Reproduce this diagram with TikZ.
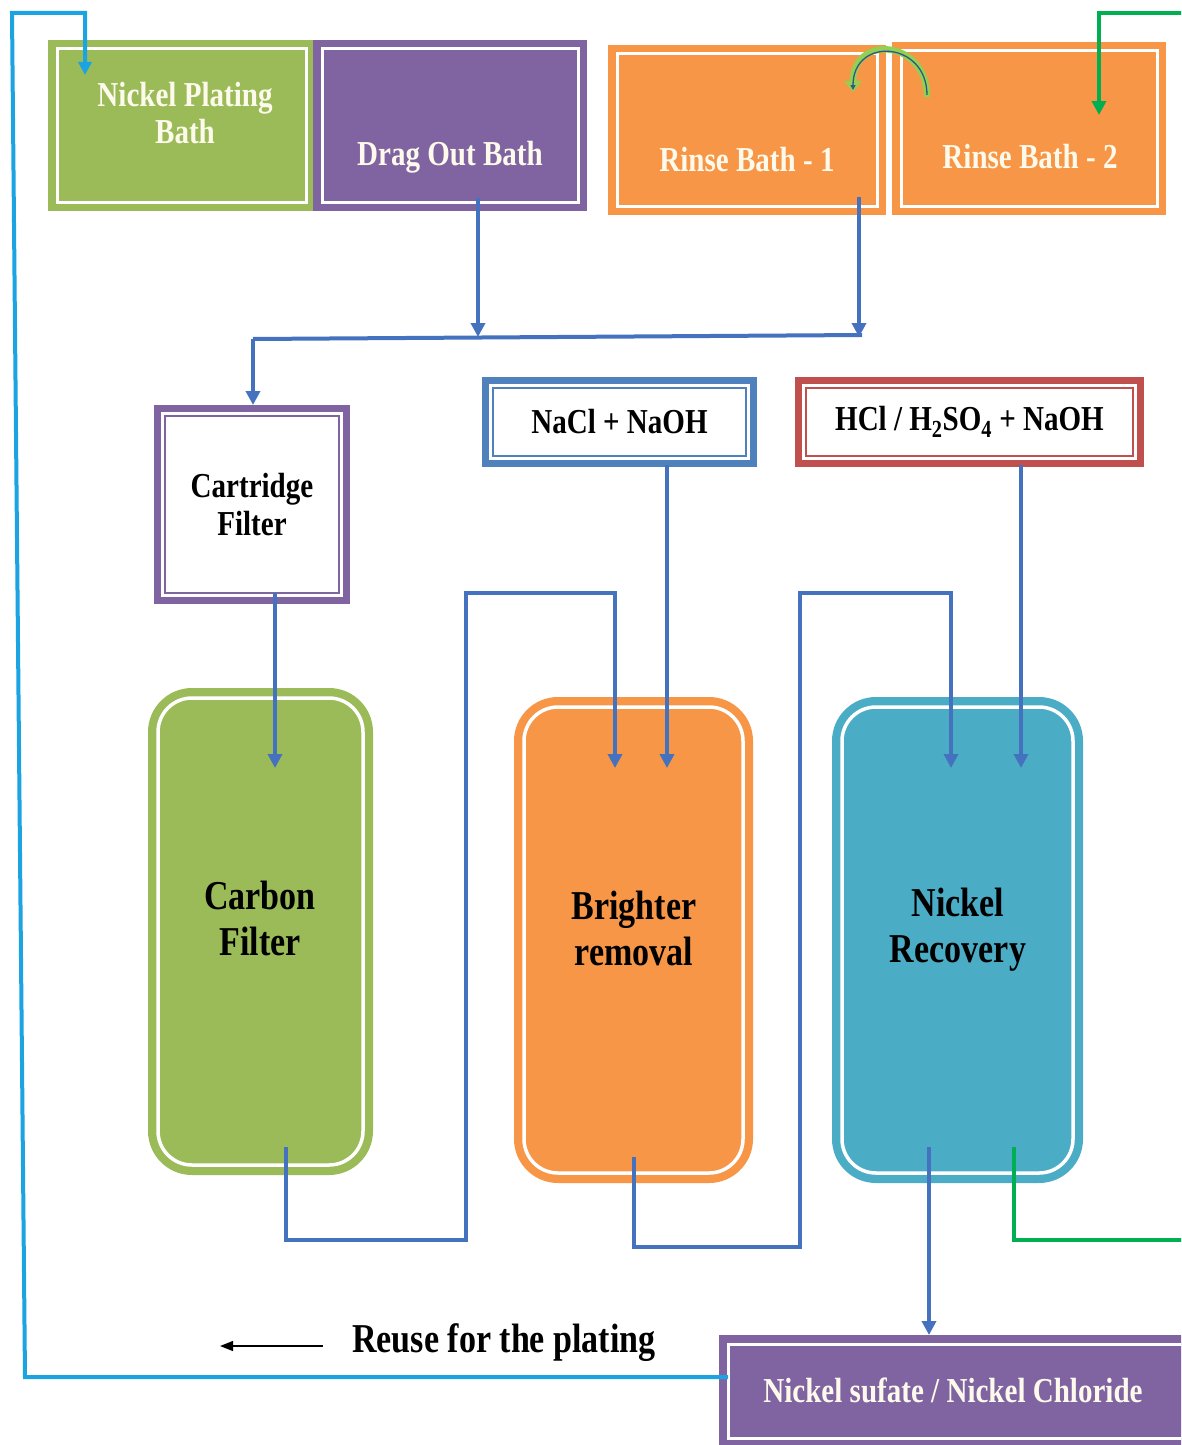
\documentclass[tikz,border=0pt]{standalone}
\usepackage{fontspec}
\setmainfont{Liberation Serif}[FakeStretch=0.83]
\usetikzlibrary{arrows.meta,calc}
\definecolor{cgreen}{RGB}{155,187,89}
\definecolor{cpurple}{RGB}{128,100,162}
\definecolor{corange}{RGB}{247,150,70}
\definecolor{cteal}{RGB}{75,172,198}
\definecolor{cblueb}{RGB}{79,129,189}
\definecolor{cred}{RGB}{192,80,77}
\definecolor{cflow}{RGB}{68,114,190}
\definecolor{ccyan}{RGB}{27,163,226}
\definecolor{cgline}{RGB}{0,176,80}
\definecolor{clight}{RGB}{146,208,80}
\definecolor{ccream}{RGB}{253,250,236}
\tikzset{
  box/.style={rectangle, inner sep=0pt, outer sep=0pt},
  cbox/.style={box, fill=#1, path picture={\draw[white,line width=3pt]
      ([shift={(9pt,-9pt)}]path picture bounding box.north west) rectangle
      ([shift={(-9pt,9pt)}]path picture bounding box.south east);}},
  wbox/.style={box, fill=#1, path picture={\fill[white]
      ([shift={(7pt,-7pt)}]path picture bounding box.north west) rectangle
      ([shift={(-7pt,7pt)}]path picture bounding box.south east);
      \draw[#1,line width=2.5pt]
      ([shift={(11pt,-11pt)}]path picture bounding box.north west) rectangle
      ([shift={(-11pt,11pt)}]path picture bounding box.south east);}},
  rbox/.style={box, rounded corners=44pt, fill=#1, path picture={\draw[white,line width=3.5pt,rounded corners=34pt]
      ([shift={(10pt,-10pt)}]path picture bounding box.north west) rectangle
      ([shift={(-10pt,10pt)}]path picture bounding box.south east);}},
  wtxt/.style={text=ccream, font=\bfseries\fontsize{35}{37}\selectfont, align=center, inner sep=0pt},
  ktxt/.style={text=black, font=\bfseries\fontsize{35}{38}\selectfont, align=center, inner sep=0pt},
  bigtxt/.style={text=black, font=\bfseries\fontsize{41}{46}\selectfont, align=center, inner sep=0pt},
  flow/.style={draw=cflow, line width=4pt},
  tip/.style={-{Triangle[width=14pt,length=14pt]}},
}
\begin{document}
\begin{tikzpicture}[x=1pt,y=-1pt]
\clip (0,0) rectangle (1181,1445);
\fill[white] (0,0) rectangle (1181,1445);

% top baths
\node[cbox=cgreen, minimum width=267pt, minimum height=171pt] (npb) at (181.5,125.5) {};
\node[cbox=cpurple, minimum width=274pt, minimum height=171pt] (dob) at (450,125.5) {};
\node[cbox=corange, minimum width=278pt, minimum height=170pt] (rb1) at (747,130) {};
\node[cbox=corange, minimum width=274pt, minimum height=173pt] (rb2) at (1029,128.5) {};
\node[wtxt] (npbt) at (185,113) {Nickel Plating\\Bath};
\node[wtxt] (dobt) at (450,157) {Drag Out Bath};
\node[wtxt] (rb1t) at (747,160) {Rinse Bath - 1};
\node[wtxt] (rb2t) at (1030,157) {Rinse Bath - 2};

% reagent boxes
\node[wbox=cpurple, minimum width=196pt, minimum height=199pt, ktxt] (cf) at (252,504.5) {Cartridge\\Filter};
\node[wbox=cblueb, minimum width=275pt, minimum height=90pt, ktxt] (nacl) at (619.5,422) {NaCl + NaOH};
\node[wbox=cred, minimum width=349pt, minimum height=90pt, ktxt] (hcl) at (969.5,422) {HCl / H\textsubscript{2}SO\textsubscript{4} + NaOH};

% tanks
\node[rbox=cgreen, minimum width=225pt, minimum height=487pt] (cb) at (260.5,931.5) {};
\node[rbox=corange, minimum width=239pt, minimum height=486pt] (br) at (633.5,940) {};
\node[rbox=cteal, minimum width=251pt, minimum height=486pt] (nr) at (957.5,940) {};
\node[bigtxt] (cbt) at (260,918) {Carbon\\Filter};
\node[bigtxt] (brt) at (634,928) {Brighter\\removal};
\node[bigtxt] (nrt) at (958,930) {Nickel\\Recovery};

% product box
\node[cbox=cpurple, minimum width=481pt, minimum height=112pt] (ns) at (959.5,1391) {};
\node[wtxt] (nst) at (953,1390) {Nickel sufate / Nickel Chloride};
\node[bigtxt] (reuse) at (504,1343) {Reuse for the plating};

% manifold
\coordinate (m1) at (478,337);
\coordinate (m2) at (859,337);
\coordinate (mL) at (253,339);
\draw[flow] ($(m2)+(3,-2)$) -- (mL);
\draw[flow,tip] ($(dob.south)+(28,-13)$) -- (m1);
\draw[flow,tip] ($(rb1.south)+(112,-18)$) -- (m2);
\draw[flow,tip] (mL) -- (mL |- cf.north);
\draw[flow,tip] ($(cf.south)+(23,-11)$) -- ($(cb.north)+(14.5,80)$);

% carbon -> brighter
\draw[flow,tip] ($(cb.south)+(25.5,-28)$) -- ++(0,93) -- ++(180,0) -- ++(0,-647) -- ++(149,0)
  -- ($(br.north)+(-18.5,71)$);
\draw[flow,tip] ($(nacl.south)+(47.5,-2)$) -- ($(br.north)+(33.5,71)$);

% brighter -> nickel recovery
\draw[flow,tip] ($(br.south)+(0.5,-26)$) -- ++(0,90) -- ++(166,0) -- ++(0,-654) -- ++(151,0)
  -- ($(nr.north)+(-6.5,71)$);
\draw[flow,tip] ($(hcl.south)+(51.5,-2)$) -- ($(nr.north)+(63.5,71)$);

% recovery -> product
\draw[flow,tip] ($(nr.south)+(-28.5,-36)$) -- ($(ns.north)+(-30.5,0)$);

% green rinse return
\draw[cgline, line width=4pt] ($(nr.south)+(56.5,-36)$) -- ++(0,93) -- ++(190,0);
\coordinate (gR) at (1195,13);
\draw[cgline, line width=4pt, -{Triangle[width=14pt,length=14pt]}] (gR) -| ($(rb2.north)+(70,73)$);

% cyan reuse loop
\draw[ccyan, line width=4pt, -{Triangle[width=13pt,length=13pt]}] ($(ns.west)+(9,-14)$) -- ++(-703,0) -- ++(-13,-1364) -| ($(npb.north west)+(37,35)$);

% reuse arrow
\draw[black, line width=1.5pt, -{Triangle[width=10pt,length=13pt]}] ($(reuse.west)+(-29,3)$) -- ++(-103,0);

% rinse overflow arc
\coordinate (arcA) at ($(rb2.north west)+(35,55)$);
\coordinate (arcB) at ($(rb1.north east)+(-33,47)$);
\draw[clight, line width=6.5pt, -{Triangle[width=17pt,length=11pt]}] (arcA) .. controls ($(arcA)+(0,-58)$) and ($(arcB)+(0,-58)$) .. (arcB);
\draw[cflow!75!black, line width=1.3pt, -{Triangle[width=5pt,length=5pt]}] ($(arcA)+(0,-2)$) .. controls ($(arcA)+(0,-56)$) and ($(arcB)+(0,-56)$) .. ($(arcB)+(0,-2)$);
\end{tikzpicture}
\end{document}
